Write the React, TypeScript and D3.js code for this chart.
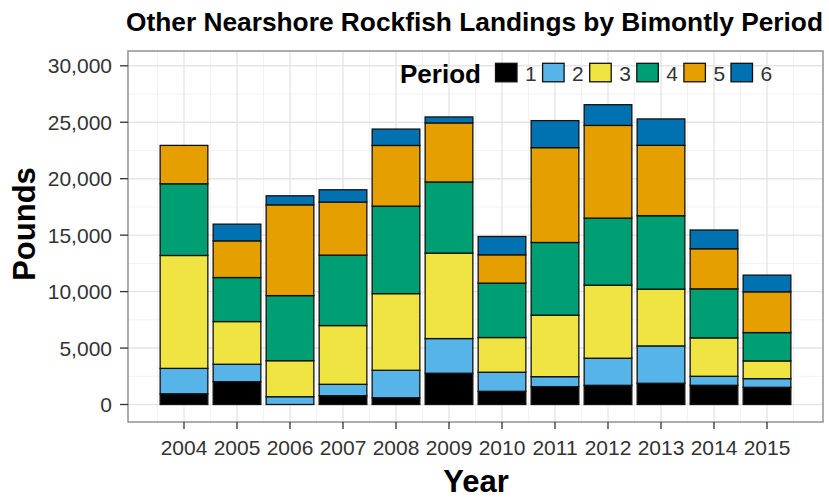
import React from "react";
import * as d3 from "d3";

const years = ["2004","2005","2006","2007","2008","2009","2010","2011","2012","2013","2014","2015"];
const period1 = [950, 2020, 0, 780, 600, 2770, 1170, 1580, 1700, 1880, 1700, 1525];
const period2 = [2250, 1545, 690, 1010, 2430, 3070, 1690, 885, 2400, 3310, 800, 765];
const period3 = [10000, 3780, 3190, 5200, 6790, 7570, 3070, 5445, 6470, 5030, 3400, 1570];
const period4 = [6350, 3900, 5765, 6240, 7750, 6300, 4820, 6440, 5940, 6500, 4345, 2510];
const period5 = [3400, 3250, 8040, 4700, 5375, 5230, 2510, 8400, 8210, 6235, 3550, 3610];
const period6 = [0, 1480, 800, 1090, 1450, 530, 1620, 2395, 1835, 2340, 1660, 1480];
const periods = ["1", "2", "3", "4", "5", "6"];
const colors = ["#000000", "#56B4E9", "#F0E442", "#009E73", "#E69F00", "#0072B2"];
const yTicks = [0, 5000, 10000, 15000, 20000, 25000, 30000];
const yMinor = [2500, 7500, 12500, 17500, 22500, 27500];

const FONT = "'Liberation Sans', Arial, Helvetica, sans-serif";

export default function App() {
  const W = 829, H = 498;
  const panel = { left: 128, right: 823, top: 51, bottom: 422 };
  const series = [period1, period2, period3, period4, period5, period6];
  const rows = years.map((y, i) => {
    const r: any = { year: y };
    periods.forEach((p, k) => (r[p] = series[k][i]));
    return r;
  });
  const stacked = d3.stack<any>().keys(periods)(rows);

  const x = d3.scaleBand<string>().domain(years).range([panel.left, panel.right]).paddingInner(0.1).paddingOuter(0.6066);
  const y = d3.scaleLinear().domain([0, 30000]).range([404.5, 65.8]);
  const step = x.step();
  const center = (yr: string) => (x(yr) as number) + x.bandwidth() / 2;
  const fmt = d3.format(",");
  const xMinor = [...years.map((yr) => center(yr) - step / 2), center(years[years.length - 1]) + step / 2];

  return (
    <>
      <style>{`body{margin:0;}`}</style>
      <svg width={W} height={H} style={{ display: "block", background: "#fff" }} fontFamily={FONT}>
        {/* panel background */}
        <rect x={panel.left} y={panel.top} width={panel.right - panel.left} height={panel.bottom - panel.top} fill="#fff" />
        {/* minor grid */}
        {yMinor.map((v) => (
          <line key={"ym" + v} x1={panel.left} x2={panel.right} y1={y(v)} y2={y(v)} stroke="#f2f2f2" strokeWidth={1} />
        ))}
        {xMinor.map((v, i) => (
          <line key={"xm" + i} x1={v} x2={v} y1={panel.top} y2={panel.bottom} stroke="#f2f2f2" strokeWidth={1} />
        ))}
        {/* major grid */}
        {yTicks.map((v) => (
          <line key={"yM" + v} x1={panel.left} x2={panel.right} y1={y(v)} y2={y(v)} stroke="#e5e5e5" strokeWidth={1.4} />
        ))}
        {years.map((yr) => (
          <line key={"xM" + yr} x1={center(yr)} x2={center(yr)} y1={panel.top} y2={panel.bottom} stroke="#e5e5e5" strokeWidth={1.4} />
        ))}
        {/* bars */}
        {stacked.map((s, k) => (
          <g key={"s" + k} fill={colors[k]} stroke="#111" strokeWidth={1.3}>
            {s.map((d, i) =>
              d[1] - d[0] > 0 ? (
                <rect
                  key={i}
                  x={x(years[i]) as number}
                  width={x.bandwidth()}
                  y={y(d[1])}
                  height={y(d[0]) - y(d[1])}
                />
              ) : null
            )}
          </g>
        ))}
        {/* panel border */}
        <rect x={panel.left} y={panel.top} width={panel.right - panel.left} height={panel.bottom - panel.top} fill="none" stroke="#8a8a8a" strokeWidth={1.4} />
        {/* y axis */}
        {yTicks.map((v) => (
          <g key={"yt" + v}>
            <line x1={panel.left - 8} x2={panel.left} y1={y(v)} y2={y(v)} stroke="#333" strokeWidth={1.3} />
            <text x={112} y={y(v)} dy="0.36em" textAnchor="end" fontSize={21} fill="#333">
              {fmt(v)}
            </text>
          </g>
        ))}
        {/* x axis */}
        {years.map((yr) => (
          <g key={"xt" + yr}>
            <line x1={center(yr)} x2={center(yr)} y1={panel.bottom} y2={panel.bottom + 7} stroke="#333" strokeWidth={1.3} />
            <text x={center(yr)} y={455} textAnchor="middle" fontSize={21} fill="#333">
              {yr}
            </text>
          </g>
        ))}
        {/* axis titles */}
        <text x={476} y={492.3} textAnchor="middle" fontSize={31} fontWeight="bold" fill="#000">
          Year
        </text>
        <text transform="translate(35,224) rotate(-90)" textAnchor="middle" fontSize={31} fontWeight="bold" fill="#000">
          Pounds
        </text>
        {/* title */}
        <text x={126} y={31} fontSize={26.3} fontWeight="bold" fill="#000">
          Other Nearshore Rockfish Landings by Bimontly Period
        </text>
        {/* legend */}
        <text x={400} y={83} fontSize={26} fontWeight="bold" fill="#000">
          Period
        </text>
        {periods.map((p, i) => {
          const bx = 495.5 + i * 47.1;
          return (
            <g key={"lg" + p}>
              <rect x={bx} y={63.3} width={21.5} height={18.5} fill={colors[i]} stroke="#111" strokeWidth={1.3} />
              <text x={bx + 29.5} y={81} fontSize={21} fill="#333">
                {p}
              </text>
            </g>
          );
        })}
      </svg>
    </>
  );
}
